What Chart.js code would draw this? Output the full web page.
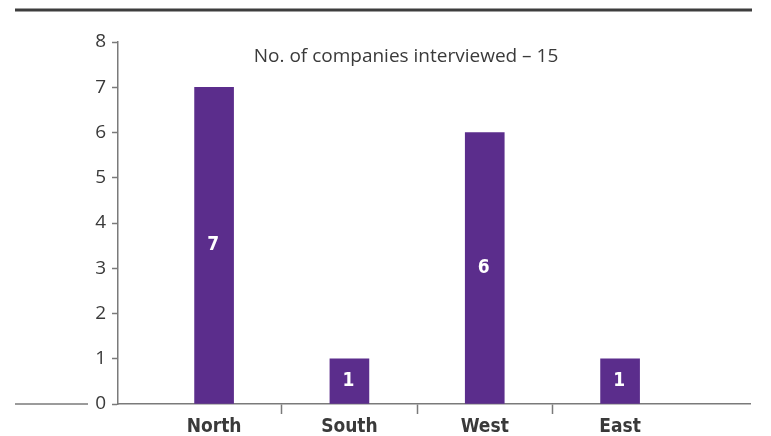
<!DOCTYPE html>
<html>
<head>
<meta charset="utf-8">
<script src="https://cdn.jsdelivr.net/npm/chart.js@4"></script>
<style>
  html, body { margin: 0; padding: 0; background: #fff; }
  #wrap { width: 771px; height: 436px; position: relative; }
</style>
</head>
<body>
<div id="wrap"><canvas id="regions"></canvas></div>
<script>
// ── Data ─────────────────────────────────────────────────────
const regions = ["North", "South", "West", "East"];
const companies = [7, 1, 6, 1];
const yTicks = [0, 1, 2, 3, 4, 5, 6, 7, 8];
const note = "No. of companies interviewed \u2013 15";

const purple = "#5b2d8c";
const axisGrey = "#7a7a7a";
const textGrey = "#3a3a3a";
const narrowBold = "'Liberation Sans Narrow', 'DejaVu Sans Condensed', sans-serif";

// category ticks sit on whole numbers, divider ticks on the halves
const isDivider = c => !!(c && c.tick && !Number.isInteger(c.tick.value));

// ── Extra strokes: top rule, axis stub left of "0", bar values, note ──
const decorations = {
    id: "decorations",
    afterDraw(chart) {
        const { ctx, scales } = chart;
        const y0 = scales.y.getPixelForValue(0);
        ctx.save();

        ctx.strokeStyle = "#3d3d3d";
        ctx.lineWidth = 3;
        ctx.beginPath();
        ctx.moveTo(15, 10);
        ctx.lineTo(752, 10);
        ctx.stroke();

        ctx.strokeStyle = axisGrey;
        ctx.lineWidth = 1.5;
        ctx.beginPath();
        ctx.moveTo(15, y0);
        ctx.lineTo(88, y0);
        ctx.stroke();

        ctx.fillStyle = "#fff";
        ctx.font = "bold 19px " + narrowBold;
        ctx.textAlign = "center";
        ctx.textBaseline = "middle";
        chart.getDatasetMeta(0).data.forEach((bar, i) => {
            const mid = (bar.y + bar.base) / 2;
            ctx.fillText(String(companies[i]), bar.x - 1, mid);
        });

        ctx.fillStyle = textGrey;
        ctx.font = "19px 'Open Sans'";
        ctx.fillText(note, 406, 57);
        ctx.restore();
    }
};

new Chart(document.getElementById("regions"), {
    type: "bar",
    data: {
        datasets: [{
            label: "Companies",
            data: companies.map((v, i) => ({ x: i, y: v })),
            backgroundColor: purple,
            barThickness: 39
        }]
    },
    options: {
        responsive: true,
        maintainAspectRatio: false,
        animation: false,
        layout: { padding: { top: 42, right: 21, left: 0, bottom: 0 } },
        plugins: { legend: { display: false }, tooltip: { enabled: false } },
        scales: {
            x: {
                type: "linear",
                offset: false,
                min: -0.71,
                max: 3.96,
                afterBuildTicks: s => {
                    s.ticks = [0, 0.5, 1, 1.5, 2, 2.5, 3].map(v => ({ value: v }));
                },
                afterFit: s => { s.height = 32; },
                border: { color: axisGrey, width: 1.5 },
                grid: {
                    offset: false,
                    drawOnChartArea: false,
                    tickLength: 10,
                    tickWidth: 1.5,
                    tickColor: c => isDivider(c) ? axisGrey : "rgba(0,0,0,0)"
                },
                ticks: {
                    autoSkip: false,
                    maxRotation: 0,
                    padding: 2,
                    color: textGrey,
                    font: { family: narrowBold, size: 19, weight: "bold" },
                    callback: v => Number.isInteger(v) ? regions[v] : ""
                }
            },
            y: {
                min: 0,
                max: 8,
                afterBuildTicks: s => { s.ticks = yTicks.map(v => ({ value: v })); },
                afterFit: s => { s.width = 118; },
                border: { color: axisGrey, width: 1.5 },
                grid: {
                    drawOnChartArea: false,
                    tickLength: 6,
                    tickWidth: 1.5,
                    tickColor: axisGrey
                },
                ticks: {
                    padding: 6,
                    color: textGrey,
                    font: { family: "'Open Sans'", size: 19 }
                }
            }
        }
    },
    plugins: [decorations]
});
</script>
</body>
</html>
